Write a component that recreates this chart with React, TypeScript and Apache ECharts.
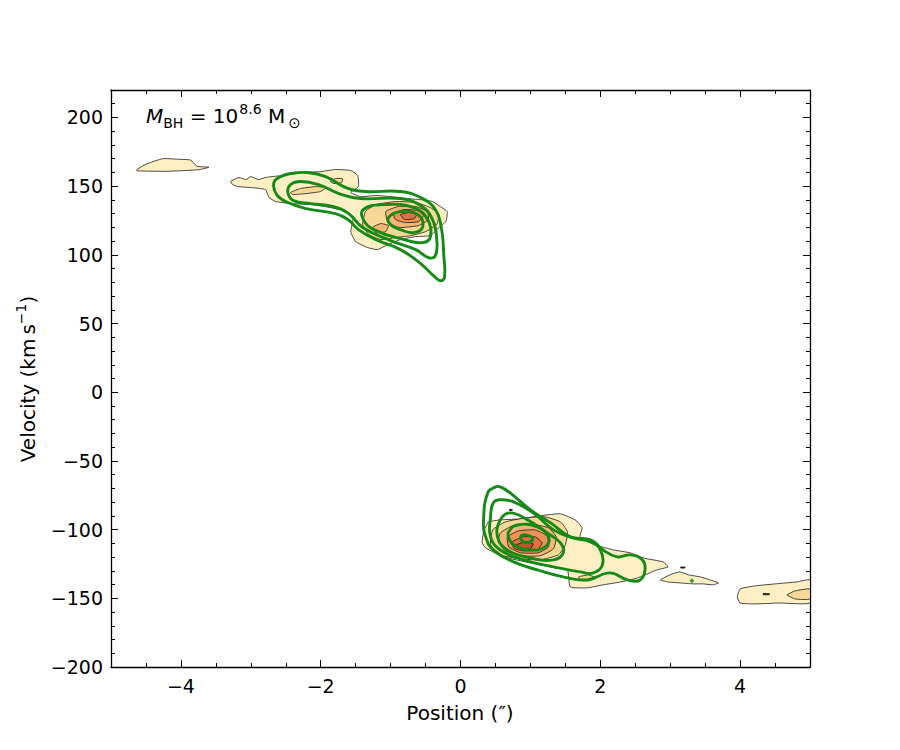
import React, { useEffect, useRef } from 'react';
import * as echarts from 'echarts';

// ---- axes ----
const xMajorTicks = [-4, -2, 0, 2, 4];
const yMajorTicks = [-200, -150, -100, -50, 0, 50, 100, 150, 200];

// ---- filled contours of the data [position ("), velocity (km/s)] ----
const level1BlobWest = [[-4.63, 162], [-4.5, 166], [-4.26, 170], [-4.0, 169.5], [-3.86, 169], [-3.77, 164.5], [-3.6, 163.8], [-3.74, 162], [-4.21, 160.8], [-4.63, 161.2]];
const level1Upper = [[-3.29, 153.4], [-3.17, 156.3], [-3.07, 154.8], [-3.0, 157], [-2.89, 154.8], [-2.79, 156.3], [-2.57, 157.7], [-2.29, 159.9], [-2.0, 160.6], [-1.79, 162.1], [-1.57, 161.4], [-1.47, 157.7], [-1.46, 149.7], [-1.57, 145.4], [-1.43, 142.4], [-1.21, 143.2], [-1.0, 142.4], [-0.79, 141], [-0.57, 140.2], [-0.4, 138.8], [-0.29, 135.2], [-0.19, 131.5], [-0.21, 124.2], [-0.31, 119.9], [-0.43, 114], [-0.64, 113.3], [-0.86, 111.1], [-1.07, 106.7], [-1.19, 103.8], [-1.33, 105.3], [-1.5, 109.6], [-1.57, 116.9], [-1.54, 125.7], [-1.64, 131.5], [-1.86, 134.4], [-2.14, 136.6], [-2.43, 137.3], [-2.64, 138.8], [-2.74, 141.7], [-2.79, 147.5], [-3.0, 149], [-3.19, 149.7], [-3.26, 151.2]];
const level1Lower = [[0.33, -101.6], [0.31, -109.6], [0.36, -113.3], [0.61, -119.8], [1.0, -124.2], [1.36, -127.9], [1.53, -129.3], [1.57, -141.7], [1.81, -142.4], [2.04, -140.2], [2.29, -138.1], [2.53, -135.2], [2.81, -129.3], [2.97, -127.1], [2.9, -123.5], [2.61, -120.6], [2.43, -116.9], [2.19, -114.8], [1.93, -111.1], [1.71, -105.3], [1.74, -98.7], [1.64, -92.9], [1.43, -88.5], [1.14, -89.9], [0.86, -92.2], [0.57, -92.9], [0.4, -94.4], [0.36, -98]];
const level1Island = [[2.86, -136.6], [3.03, -132.2], [3.14, -130.8], [3.26, -132.9], [3.43, -134.4], [3.57, -136.6], [3.69, -138.8], [3.61, -140.2], [3.47, -139.5], [3.33, -139.5], [3.14, -138.8], [2.97, -138.1]];
const level1East = [[3.96, -149], [4.0, -143.2], [4.21, -141], [4.5, -139.5], [4.81, -138.1], [5.0, -136.6], [5.0, -153.4], [4.57, -153.4], [4.21, -154.1], [4.0, -153.4]];

const level2UpperStreak = [[-2.43, 145.4], [-2.29, 148.3], [-2.07, 149.7], [-1.93, 149], [-2.0, 146.1], [-2.21, 144.6], [-2.4, 143.9]];
const level2UpperSpot = [[-1.86, 153.4], [-1.79, 155.5], [-1.69, 155.5], [-1.7, 152.6], [-1.81, 151.9]];
const level2Upper = [[-1.36, 131.5], [-1.21, 136.6], [-0.93, 138.8], [-0.64, 138.1], [-0.43, 134.4], [-0.31, 129.3], [-0.34, 122], [-0.5, 116.9], [-0.71, 114], [-0.93, 112.6], [-1.14, 111.1], [-1.31, 114.7], [-1.4, 122]];
const level2Lower = [[0.46, -100.2], [0.64, -94.4], [0.93, -91.5], [1.21, -90.7], [1.43, -94.4], [1.53, -101.6], [1.5, -111.1], [1.4, -118.4], [1.14, -122], [0.86, -121.3], [0.57, -118.4], [0.43, -111.1]];
const level2LowerSpot = [[1.69, -134.4], [1.83, -133], [1.94, -135.2], [1.83, -137.3], [1.71, -136.6]];
const level2East = [[4.67, -147.5], [4.79, -144.6], [5.0, -143.2], [5.0, -150.5], [4.79, -150.5]];

const level3Upper = [[-1.07, 131.5], [-0.89, 135.2], [-0.64, 135.2], [-0.47, 131.5], [-0.46, 125.7], [-0.6, 121.3], [-0.86, 119.9], [-1.03, 122.8]];
const level3UpperSpot = [[-1.26, 119.9], [-1.14, 122.8], [-1.03, 121.3], [-1.07, 116.9], [-1.21, 116.2]];
const level3Lower = [[0.57, -102.4], [0.74, -97.3], [1.0, -95.8], [1.26, -98.7], [1.37, -105.3], [1.33, -114], [1.14, -119.1], [0.86, -119.1], [0.64, -115.5], [0.54, -108.9]];

const level4Upper = [[-0.96, 130], [-0.81, 133], [-0.61, 132.2], [-0.53, 128.6], [-0.6, 124.2], [-0.79, 123.5], [-0.93, 125.7]];
const level4Lower = [[0.67, -105.3], [0.83, -100.9], [1.07, -100.2], [1.24, -104.6], [1.26, -112.6], [1.11, -116.9], [0.86, -116.9], [0.69, -112.6]];

const level5Upper = [[-0.86, 129.3], [-0.74, 130.8], [-0.63, 129.3], [-0.66, 126.4], [-0.8, 125.7]];
const level5Lower = [[0.74, -108.9], [0.89, -105.3], [1.07, -105.3], [1.17, -109.6], [1.1, -114.8], [0.89, -115.5], [0.76, -113.3]];

const level6Lower = [[0.8, -111.1], [0.93, -108.9], [1.04, -110.4], [1.0, -114], [0.86, -114]];

const peakMarks = [
  [[4.33, -146.6], [4.42, -146.6], [4.42, -147.4], [4.33, -147.4]],
  [[3.15, -127.2], [3.21, -127.2], [3.21, -128], [3.15, -128]],
  [[0.7, -85.3], [0.74, -85.3], [0.74, -86], [0.7, -86]],
];

// ---- model contours (green) ----
const modelUpper1 = [[-2.67, 152.6], [-2.57, 157], [-2.43, 159.2], [-2.19, 159.9], [-1.93, 157], [-1.64, 149], [-1.36, 146.1], [-0.86, 146.1], [-0.57, 141.7], [-0.36, 133], [-0.27, 118.4], [-0.24, 100.2], [-0.23, 83.4], [-0.29, 81.2], [-0.37, 84.1], [-0.57, 93.6], [-0.86, 103.8], [-1.21, 111.1], [-1.46, 118.4], [-1.61, 125.7], [-1.79, 130], [-2.21, 133.7], [-2.47, 138.1], [-2.63, 143.9]];
const modelUpper2 = [[-2.47, 145.4], [-2.43, 151.2], [-2.29, 153.4], [-2.03, 151.2], [-1.74, 144.6], [-1.43, 141], [-0.86, 141], [-0.57, 135.9], [-0.4, 125.7], [-0.34, 111.1], [-0.36, 99.4], [-0.46, 98], [-0.64, 103.8], [-1.0, 110.4], [-1.4, 119.9], [-1.6, 130], [-1.83, 135.2], [-2.14, 137.3], [-2.39, 139.5]];
const modelUpper3 = [[-1.39, 133], [-1.1, 136.6], [-0.67, 134.4], [-0.47, 125.7], [-0.43, 113.3], [-0.54, 108.9], [-0.81, 111.1], [-1.24, 118.4], [-1.39, 125.7]];
const modelUpper4 = [[-1.03, 127.1], [-0.86, 131.5], [-0.61, 129.3], [-0.54, 120.6], [-0.67, 116.2], [-0.86, 118.4], [-1.0, 122]];

const modelLower1 = [[0.5, -68.9], [0.39, -73.2], [0.33, -92.9], [0.36, -105.3], [0.47, -114.8], [0.76, -123.5], [1.1, -129.3], [1.47, -134.4], [1.81, -136.6], [2.14, -131.5], [2.39, -136.6], [2.57, -136.6], [2.64, -129.3], [2.6, -122], [2.43, -118.4], [2.24, -119.8], [2.04, -114.8], [1.86, -107.5], [1.57, -105.3], [1.29, -95.1], [1.0, -85.6], [0.71, -73.2], [0.57, -68.9]];
const modelLower2 = [[0.47, -80.5], [0.43, -90.7], [0.43, -105.3], [0.57, -114.8], [0.9, -122], [1.33, -127.1], [1.71, -130.8], [1.9, -131.5], [2.03, -125.7], [2.0, -114.8], [1.86, -108.9], [1.61, -106], [1.33, -100.2], [1.04, -87.8], [0.76, -79.8], [0.57, -78.3]];
const modelLower3 = [[0.57, -92.9], [0.53, -105.3], [0.67, -114.8], [1.0, -120.6], [1.33, -122], [1.47, -116.9], [1.43, -109.6], [1.24, -102.4], [0.96, -92.9], [0.71, -87.8]];
const modelLower4 = [[0.69, -101.6], [0.81, -96.6], [1.1, -98], [1.26, -105.3], [1.21, -112.6], [1.0, -114.8], [0.76, -111.1], [0.69, -106]];
const modelLower5 = [[0.86, -105.3], [0.93, -103.8], [1.03, -106], [1.0, -108.9], [0.9, -108.9]];

const modelPeak = [[3.31, -137.3]];

// ---- styles ----
const GREEN = '#168a16';
const FONT = 'DejaVu Sans';

const fillLayers = [
  { id: 'level1', color: '#fcefc4', polys: [level1BlobWest, level1Upper, level1Lower, level1Island, level1East] },
  { id: 'level2', color: '#f8d898', polys: [level2UpperStreak, level2UpperSpot, level2Upper, level2Lower, level2LowerSpot, level2East] },
  { id: 'level3', color: '#f4b677', polys: [level3Upper, level3UpperSpot, level3Lower] },
  { id: 'level4', color: '#ec9458', polys: [level4Upper, level4Lower] },
  { id: 'level5', color: '#dc7244', polys: [level5Upper, level5Lower] },
  { id: 'level6', color: '#b9562f', polys: [level6Lower] },
  { id: 'marks', color: '#333333', polys: peakMarks },
];
const modelContours = [modelUpper1, modelUpper2, modelUpper3, modelUpper4, modelLower1, modelLower2, modelLower3, modelLower4, modelLower5];

function polygonSeries(id: string, polys: number[][][], style: any, smooth: number) {
  return {
    type: 'custom',
    id,
    xAxisIndex: 0,
    yAxisIndex: 0,
    clip: true,
    silent: true,
    data: polys.map((p, i) => [p[0][0], p[0][1], i]),
    renderItem: (params: any, api: any) => {
      const poly = polys[params.dataIndex];
      return {
        type: 'polygon',
        shape: { points: poly.map((pt) => api.coord(pt)), smooth },
        style,
      };
    },
  };
}

const fmt = (v: number) => (v < 0 ? '\u2212' + Math.abs(v) : String(v));

function xAxes() {
  const base = { type: 'value', min: -5, max: 5, splitLine: { show: false } };
  const major = (position: string, labels: boolean) => ({
    ...base,
    position,
    axisLine: { show: true, onZero: false, lineStyle: { color: '#000', width: 1.3 } },
    axisTick: { show: true, inside: true, length: 7, customValues: xMajorTicks, lineStyle: { color: '#000', width: 1 } },
    axisLabel: labels
      ? { show: true, customValues: xMajorTicks, formatter: fmt, color: '#000', fontSize: 19, fontFamily: FONT, margin: 9 }
      : { show: false },
  });
  const minor = (position: string) => ({
    ...base,
    position,
    interval: 0.5,
    axisLine: { show: false, onZero: false },
    axisTick: { show: true, inside: true, length: 4, lineStyle: { color: '#000', width: 1 } },
    axisLabel: { show: false },
  });
  return [major('bottom', true), minor('bottom'), major('top', false), minor('top')];
}

function yAxes() {
  const base = { type: 'value', min: -200, max: 220, splitLine: { show: false } };
  const major = (position: string, labels: boolean) => ({
    ...base,
    position,
    axisLine: { show: true, onZero: false, lineStyle: { color: '#000', width: 1.3 } },
    axisTick: { show: true, inside: true, length: 7, customValues: yMajorTicks, lineStyle: { color: '#000', width: 1 } },
    axisLabel: labels
      ? { show: true, customValues: yMajorTicks, formatter: fmt, color: '#000', fontSize: 19, fontFamily: FONT, margin: 8 }
      : { show: false },
  });
  const minor = (position: string) => ({
    ...base,
    position,
    interval: 10,
    axisLine: { show: false, onZero: false },
    axisTick: { show: true, inside: true, length: 4, lineStyle: { color: '#000', width: 1 } },
    axisLabel: { show: false },
  });
  return [major('left', true), minor('left'), major('right', false), minor('right')];
}

export default function App() {
  const ref = useRef<HTMLDivElement>(null);
  useEffect(() => {
    if (!ref.current) return;
    const chart = echarts.init(ref.current, null, { renderer: 'svg' });
    const series: any[] = [];
    fillLayers.forEach((layer) => {
      series.push(polygonSeries(layer.id, layer.polys, { fill: layer.color, stroke: '#000', lineWidth: 0.7 }, 0.15));
    });
    series.push(polygonSeries('model', modelContours, { fill: 'none', stroke: GREEN, lineWidth: 2.9 }, 0.45));
    series.push({
      type: 'scatter',
      xAxisIndex: 0,
      yAxisIndex: 0,
      data: modelPeak,
      symbol: 'diamond',
      symbolSize: 5,
      itemStyle: { color: GREEN },
      silent: true,
    });
    chart.setOption({
      animation: false,
      backgroundColor: '#fff',
      grid: { left: 111, right: 90, top: 90, bottom: 83, containLabel: false },
      xAxis: xAxes(),
      yAxis: yAxes(),
      series,
      graphic: [
        {
          type: 'text',
          x: 146,
          y: 116,
          silent: true,
          style: {
            text: '{mi|M}{sub|BH}{n| = 10}{sup|8.6}{n| M}{sym|\u2299}',
            align: 'left',
            verticalAlign: 'middle',
            fill: '#000',
            rich: {
              mi: { fontSize: 20, fontFamily: FONT, fontStyle: 'italic', lineHeight: 28, verticalAlign: 'middle', fill: '#000' },
              n: { fontSize: 20, fontFamily: FONT, lineHeight: 28, verticalAlign: 'middle', fill: '#000' },
              sub: { fontSize: 14, fontFamily: FONT, lineHeight: 18, verticalAlign: 'bottom', fill: '#000' },
              sym: { fontSize: 15, fontFamily: FONT, lineHeight: 17, verticalAlign: 'bottom', fill: '#000', padding: [0, 0, 0, 3] },
              sup: { fontSize: 14, fontFamily: FONT, lineHeight: 16, verticalAlign: 'top', fill: '#000', padding: [0, 0, 0, 1] },
            },
          },
        },
        {
          type: 'text',
          x: 460,
          y: 713,
          silent: true,
          style: { text: 'Position (\u2033)', fontSize: 20, fontFamily: FONT, align: 'center', verticalAlign: 'middle', fill: '#000' },
        },
        {
          type: 'text',
          x: 28,
          y: 379,
          rotation: Math.PI / 2,
          silent: true,
          style: {
            text: '{a|Velocity (km\u2009s}{s|\u22121}{a|)}',
            align: 'center',
            verticalAlign: 'middle',
            fill: '#000',
            rich: {
              a: { fontSize: 20, fontFamily: FONT, lineHeight: 28, verticalAlign: 'middle', fill: '#000' },
              s: { fontSize: 14, fontFamily: FONT, lineHeight: 16, verticalAlign: 'top', fill: '#000' },
            },
          },
        },
      ],
    });
    return () => chart.dispose();
  }, []);
  return <div ref={ref} style={{ position: 'absolute', left: 0, top: 0, width: 900, height: 750 }} />;
}
